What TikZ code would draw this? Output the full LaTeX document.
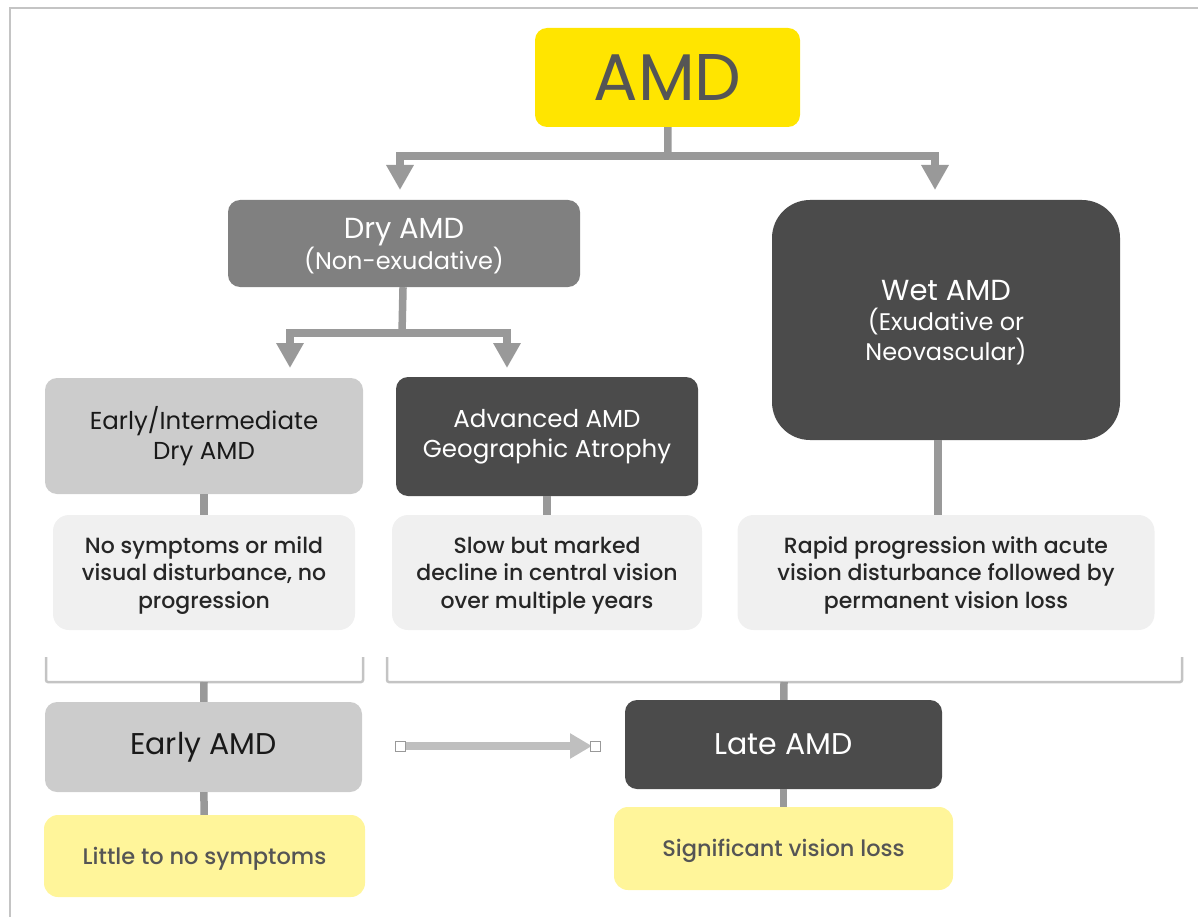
\documentclass[tikz,border=0pt]{standalone}
\usepackage{fontspec}
\setmainfont{Poppins}[BoldFont={* Medium}]
\usepackage{tikz}
\usetikzlibrary{arrows.meta,positioning}
\definecolor{amdyellow}{HTML}{FFE500}
\definecolor{notey}{HTML}{FFF59A}
\definecolor{drygray}{HTML}{808080}
\definecolor{darkbox}{HTML}{4B4B4B}
\definecolor{lightbox}{HTML}{CCCCCC}
\definecolor{descbox}{HTML}{F0F0F0}
\definecolor{stemgray}{HTML}{999999}
\definecolor{brkgray}{HTML}{C4C4C4}
\definecolor{flowgray}{HTML}{BFBFBF}
\definecolor{txtgray}{HTML}{555555}
\newcommand{\subfs}{\fontsize{24}{30}\selectfont}

\begin{document}
\begin{tikzpicture}[x=1pt,y=-1pt,
  box/.style={rectangle,rounded corners=12pt,align=center,inner sep=0pt},
  fs/.style 2 args={font=\fontsize{#1}{#2}\selectfont},
  fsb/.style 2 args={font=\fontsize{#1}{#2}\selectfont\bfseries},
  desc/.style={box,fill=descbox,text=black!85,rounded corners=16pt,minimum height=115pt,text depth=-3pt,fsb={22}{27.5}},
  note/.style={box,fill=notey,text=txtgray,rounded corners=14pt,text height=23pt,fsb={22.5}{24}},
  stem/.style={draw=stemgray,line width=7.5pt},
  tip/.style={-{Triangle[width=26pt,length=25pt]}},
  brk/.style={draw=brkgray,line width=2.5pt,rounded corners=2pt},
  flow/.style={draw=flowgray,line width=8pt,-{Triangle[width=24pt,length=22pt]}},
  handle/.style={rectangle,draw=gray!80,fill=white,line width=1pt,minimum size=10pt,inner sep=0pt}]
  \useasboundingbox (0,0) rectangle (1198,917);
  \draw[brkgray,line width=2pt] (10,917) -- (10,8) -- (1198,8);

  % boxes
  \node[box,fill=amdyellow,text=txtgray,minimum width=265pt,minimum height=99pt,fs={66}{66}] (amd) at (667.5,77.5) {AMD};
  \node[box,fill=drygray,text=white,minimum width=352pt,minimum height=87pt,text depth=0pt,fs={29}{31}] (dry) at (404,243.5)
    {Dry AMD\\\subfs(Non-exudative)};
  \node[box,fill=darkbox,text=white,rounded corners=38pt,minimum width=348pt,minimum height=240pt,text depth=-2pt,fs={29}{30}] (wet) at (946,320)
    {Wet AMD\\\subfs(Exudative or\\\subfs Neovascular)};
  \node[box,fill=lightbox,text=black!90,minimum width=318pt,minimum height=116pt,fs={24.5}{30}] (eint) at (204,436) {Early/Intermediate\\Dry AMD};
  \node[box,fill=darkbox,text=white,minimum width=302pt,minimum height=119pt,fs={24.5}{30}] (adv) at (547,436.5) {Advanced AMD\\Geographic Atrophy};
  \node[desc,minimum width=302pt] (desc1) at (204,572.5) {No symptoms or mild\\visual disturbance, no\\progression};
  \node[desc,minimum width=310pt] (desc2) at (547,572.5) {Slow but marked\\decline in central vision\\over multiple years};
  \node[desc,minimum width=417pt] (desc3) at (946,572.5) {Rapid progression with acute\\vision disturbance followed by\\permanent vision loss};
  \node[box,fill=lightbox,text=black!90,minimum width=317pt,minimum height=90pt,fs={30}{30}] (early) at (203.5,747) {Early AMD};
  \node[box,fill=darkbox,text=white,minimum width=317pt,minimum height=89pt,fs={30}{30}] (late) at (783.5,744.5) {Late AMD};
  \node[note,minimum width=321pt,minimum height=82pt] (little) at (204.5,856) {Little to no symptoms};
  \node[note,minimum width=339pt,minimum height=83pt] (signif) at (783.5,848.5) {Significant vision loss};

  % split arrows
  \coordinate (split1) at (668,156);
  \coordinate (tipdry) at (400,190);
  \coordinate (tipwet) at (935,190);
  \coordinate (split2) at (402,333);
  \coordinate (tipeint) at (290,368);
  \coordinate (tipadv) at (507,368);
  \draw[stem] (amd) -- (split1);
  \draw[stem,tip] (split1) -| (tipdry);
  \draw[stem,tip] (split1) -| (tipwet);
  \draw[stem] (dry) -- (split2);
  \draw[stem,tip] (split2) -| (tipeint);
  \draw[stem,tip] (split2) -| (tipadv);

  % brackets
  \coordinate (lbrk) at (204,682);
  \coordinate (rbrk) at (784,682);
  \draw[brk] (46,657) |- (363,682) -- (363,657);
  \draw[brk] (387,657) |- (1182,682) -- (1182,657);

  \path[stem]
    (eint) edge (desc1)
    (adv) edge (desc2)
    ([xshift=-8pt]wet.south) edge ([xshift=-8pt]desc3.north)
    (lbrk) edge (early)
    (rbrk) edge (late)
    (early) edge (little)
    (late) edge (signif);

  % early -> late
  \coordinate (hs) at (400,746);
  \coordinate (he) at (595,746);
  \draw[flow] (hs) -- ([xshift=-3pt]he);
  \node[handle] at (hs) {};
  \node[handle] at (he) {};
\end{tikzpicture}
\end{document}
